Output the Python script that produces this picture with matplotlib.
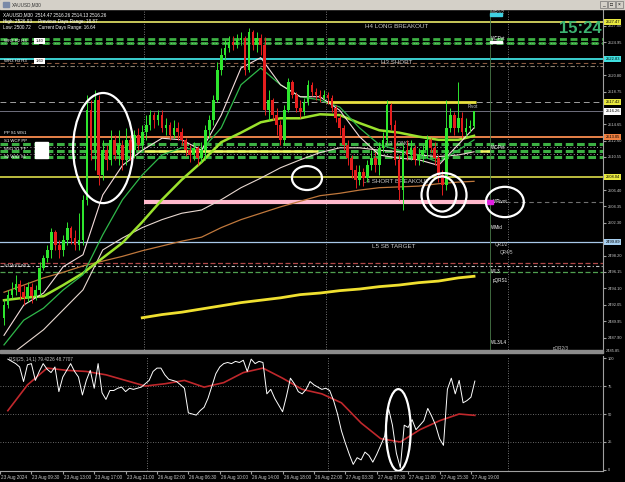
import matplotlib
matplotlib.use('Agg')
import matplotlib.pyplot as plt
from matplotlib.patches import Ellipse, Rectangle
from matplotlib.transforms import ScaledTranslation
import numpy as np

plt.rcParams['font.family'] = ['Liberation Sans', 'DejaVu Sans']

# XAUUSD M30 candles, open of a bar = close of the bar before
first_open = 2490.4
closes = [2492.0, 2493.3, 2493.9, 2494.6, 2493.6, 2492.9, 2494.3, 2493.1, 2493.9, 2496.6,
          2497.9, 2498.9, 2501.2, 2499.5, 2498.9, 2500.2, 2501.7, 2500.4, 2499.5, 2500.2,
          2505.2, 2516.4, 2511.4, 2517.7, 2508.3, 2511.4, 2510.2, 2512.7, 2510.8, 2512.1,
          2510.2, 2512.7, 2511.4, 2513.3, 2512.1, 2513.7, 2514.6, 2515.8, 2515.2, 2515.8,
          2514.2, 2514.6, 2513.3, 2514.2, 2513.7, 2512.7, 2511.4, 2510.8, 2511.7, 2510.4,
          2511.4, 2513.9, 2515.2, 2517.7, 2521.5, 2523.3, 2524.2, 2525.0, 2524.6, 2525.2,
          2525.5, 2521.5, 2526.2, 2524.6, 2525.5, 2524.6, 2516.4, 2517.7, 2515.8, 2514.6,
          2512.7, 2516.4, 2519.9, 2518.3, 2516.7, 2516.2, 2517.4, 2519.6, 2518.7, 2518.3,
          2517.9, 2518.3, 2517.9, 2516.7, 2515.4, 2514.2, 2512.1, 2510.4, 2508.9, 2507.7,
          2508.7, 2507.9, 2509.5, 2510.4, 2509.5, 2511.7, 2512.7, 2517.1, 2514.6, 2510.2,
          2506.4, 2511.4, 2510.8, 2511.7, 2510.2, 2510.8, 2511.4, 2512.7, 2511.7, 2510.4,
          2508.3, 2507.0, 2514.2, 2515.8, 2514.2, 2515.4, 2513.7, 2514.2, 2514.47, 2516.26]
highs = [2492.6, 2493.9, 2494.9, 2495.8, 2495.1, 2494.5, 2494.9, 2494.8, 2494.5, 2497.4,
         2498.3, 2499.5, 2501.7, 2501.4, 2500.2, 2500.8, 2502.4, 2501.9, 2501.4, 2503.5,
         2505.8, 2518.3, 2517.7, 2518.9, 2518.3, 2512.7, 2512.1, 2513.9, 2513.3, 2513.9,
         2512.7, 2514.2, 2513.3, 2513.9, 2514.2, 2514.6, 2515.8, 2516.4, 2516.2, 2516.4,
         2516.4, 2515.4, 2514.9, 2515.2, 2514.9, 2514.2, 2512.9, 2512.1, 2512.4, 2511.9,
         2512.4, 2514.6, 2515.8, 2518.3, 2522.5, 2524.2, 2525.2, 2525.7, 2525.7, 2526.0,
         2526.2, 2525.7, 2526.7, 2526.5, 2526.2, 2526.0, 2525.6, 2518.9, 2517.9, 2516.7,
         2515.2, 2517.1, 2520.5, 2520.2, 2518.7, 2517.7, 2517.9, 2520.2, 2519.9, 2519.2,
         2518.9, 2518.9, 2518.7, 2518.3, 2517.1, 2515.8, 2514.6, 2512.7, 2510.8, 2509.5,
         2509.5, 2509.2, 2510.2, 2511.4, 2511.2, 2512.4, 2513.7, 2517.7, 2517.3, 2515.2,
         2510.8, 2512.1, 2512.7, 2512.7, 2512.1, 2511.7, 2512.1, 2513.3, 2512.9, 2512.4,
         2510.8, 2508.9, 2517.7, 2516.7, 2516.2, 2519.9, 2516.2, 2515.4, 2515.2, 2516.26]
lows = [2489.5, 2491.6, 2492.9, 2493.3, 2492.6, 2492.0, 2492.4, 2492.3, 2492.6, 2493.3,
        2496.4, 2497.4, 2497.9, 2498.9, 2497.9, 2498.1, 2499.5, 2499.6, 2498.9, 2498.9,
        2499.5, 2504.5, 2510.2, 2508.9, 2507.0, 2507.7, 2508.9, 2509.5, 2510.2, 2509.5,
        2508.9, 2509.5, 2510.2, 2510.4, 2511.4, 2511.4, 2512.7, 2513.9, 2514.2, 2514.6,
        2513.7, 2513.3, 2512.7, 2512.9, 2512.7, 2512.1, 2510.7, 2509.9, 2510.2, 2509.5,
        2509.9, 2510.2, 2512.9, 2514.6, 2517.4, 2520.8, 2522.7, 2523.7, 2524.0, 2524.2,
        2524.6, 2520.8, 2521.2, 2524.0, 2523.7, 2523.3, 2515.8, 2515.2, 2515.2, 2513.3,
        2512.1, 2512.1, 2516.2, 2517.9, 2516.2, 2515.4, 2515.8, 2517.1, 2518.2, 2517.7,
        2517.4, 2517.7, 2517.2, 2516.2, 2514.9, 2513.3, 2511.4, 2509.5, 2507.9, 2506.7,
        2507.0, 2506.9, 2507.4, 2508.9, 2508.7, 2508.3, 2511.2, 2512.1, 2513.9, 2509.5,
        2505.2, 2503.9, 2510.2, 2510.2, 2509.5, 2509.5, 2509.9, 2510.4, 2511.2, 2509.5,
        2507.4, 2505.8, 2506.4, 2513.7, 2513.3, 2513.7, 2512.9, 2513.2, 2513.7, 2514.13]

# moving averages, read every 5 bars
ma_bars = [0, 5, 10, 15, 20, 25, 30, 35, 40, 45, 50, 55, 60, 65, 70, 75, 80, 85, 90, 95,
           100, 105, 110, 115, 119]
ma_fast = [2488.2, 2492.0, 2493.5, 2496.8, 2498.3, 2505.8, 2509.5, 2511.4, 2512.9, 2512.7,
           2511.4, 2515.8, 2521.7, 2523.0, 2519.6, 2518.1, 2518.1, 2516.4, 2513.1, 2510.8,
           2510.4, 2510.2, 2509.5, 2512.1, 2514.2]
ma_mid = [2487.0, 2490.1, 2491.6, 2493.9, 2495.8, 2500.8, 2505.2, 2508.3, 2510.8, 2511.7,
          2511.4, 2514.2, 2519.6, 2521.7, 2519.6, 2518.1, 2517.7, 2516.8, 2514.2, 2512.1,
          2511.4, 2510.8, 2509.9, 2511.4, 2512.7]
ma_slow = [2492.6, 2492.9, 2493.1, 2494.5, 2496.0, 2497.9, 2499.8, 2502.4, 2505.2, 2507.7,
           2509.9, 2512.4, 2513.6, 2514.9, 2515.4, 2515.4, 2515.9, 2515.8, 2514.8, 2513.9,
           2513.6, 2513.1, 2512.7, 2512.7, 2513.2]
ma_pale = [2485.1, 2487.0, 2488.9, 2491.4, 2493.9, 2498.9, 2500.4, 2501.7, 2502.7, 2503.5,
           2503.9, 2505.2, 2506.7, 2507.9, 2509.2, 2510.2, 2511.1, 2511.7, 2511.7, 2511.4,
           2511.2, 2510.8, 2510.6, 2510.8, 2511.2]
ma_tan = [2493.6, 2494.5, 2495.4, 2496.1, 2496.9, 2497.5, 2498.1, 2498.8, 2499.4, 2500.0,
          2500.5, 2501.7, 2502.7, 2503.5, 2504.3, 2505.0, 2505.7, 2506.0, 2506.4, 2506.7,
          2506.8, 2506.9, 2507.2, 2507.4, 2507.5]
ma_long_bars = [35, 40, 45, 50, 55, 60, 65, 70, 75, 80, 85, 90, 95, 100, 105, 110, 115, 119]
ma_long = [2490.4, 2490.8, 2491.1, 2491.5, 2491.9, 2492.3, 2492.6, 2492.9, 2493.3, 2493.5,
           2493.8, 2494.0, 2494.3, 2494.5, 2494.8, 2495.0, 2495.4, 2495.6]

# oscillator window
osc_main = [99, 97, 95, 92, 79, 94, 95, 80, 88, 95,
            90, 87, 92, 70, 83, 89, 95, 88, 83, 67,
            80, 89, 73, 95, 69, 63, 71, 71, 73, 74,
            70, 73, 72, 73, 74, 77, 80, 88, 91, 91,
            85, 81, 80, 79, 76, 73, 51, 50, 49, 53,
            56, 64, 75, 86, 92, 95, 96, 95, 97, 96,
            98, 88, 99, 95, 97, 96, 68, 72, 64, 58,
            52, 66, 82, 77, 70, 68, 72, 79, 76, 74,
            72, 73, 71, 62, 50, 35, 24, 14, 5, 11,
            9, 16, 13, 7, 14, 22, 30, 55, 40, 15,
            2, 40, 38, 45, 36, 40, 44, 55, 48, 40,
            28, 22, 72, 82, 68, 80, 60, 62, 65, 79.42]
osc_signal = [53, 76, 91, 89, 88, 85, 80, 75, 77, 80, 74, 78, 87, 91, 82, 72, 68, 60, 42, 28,
              25, 36, 44, 50, 48.77]

# levels
h4_long = 2527.47
h3_short = 2522.83
pivot = 2517.42
bid = 2516.26
orange_lvl = 2513.05
prev_pivot = 2511.30
l4_short = 2508.04
wpivot = 2504.90
l5_target = 2499.89
green_top = [2525.33, 2524.83]
green_mid = [2512.17, 2511.30, 2510.55]
white_mid = [2511.74, 2510.92]
brown_rows = [2522.33, 2521.95]
low_rows = [2497.26, 2496.89, 2496.14]

day_breaks = [35.5, 81.5, 127.5]
session_bar = 123

# scale labels not covered by the coloured price boxes
price_ticks = [2527.00, 2524.95, 2520.80, 2518.75, 2514.65, 2512.60,
               2510.55, 2506.40, 2504.35, 2502.30, 2498.20, 2496.15,
               2494.10, 2492.05, 2489.95, 2487.90]
time_ticks = [-2, 6, 14, 22, 30, 38, 46, 54, 62, 70, 78, 86, 94, 102, 110, 118]
time_labels = ['23 Aug 2024', '23 Aug 09:30', '23 Aug 13:00', '23 Aug 17:00', '23 Aug 21:00',
               '26 Aug 02:00', '26 Aug 06:30', '26 Aug 10:00', '26 Aug 14:00', '26 Aug 18:00',
               '26 Aug 22:00', '27 Aug 03:30', '27 Aug 07:30', '27 Aug 11:00', '27 Aug 15:30',
               '27 Aug 19:00']

W, H = 625.0, 482.0
fig = plt.figure(figsize=(6.25, 4.82), dpi=100, facecolor='black')


def px_axes(left, top, right, bottom):
    return fig.add_axes([left / W, 1 - bottom / H, (right - left) / W, (bottom - top) / H])


ax = px_axes(0, 10, 603, 352)
ax2 = px_axes(0, 356, 603, 471)
xlim = (-1.013, 151.65)
for a in (ax, ax2):
    a.set_facecolor('black')
    a.set_xlim(*xlim)
    for s in ('top', 'left', 'bottom'):
        a.spines[s].set_visible(False)
    a.spines['right'].set_color('#a0a0a0')
    a.spines['right'].set_linewidth(0.8)
    for b in day_breaks:
        a.axvline(b, color='#9a9a9a', lw=0.6, ls=(0, (1, 2)), zorder=1)
ax2.spines['bottom'].set_visible(True)
ax2.spines['bottom'].set_color('#a0a0a0')
ax.set_ylim(2486.11, 2528.97)
ax2.set_ylim(-0.9, 101.8)

txt = '#c8c8c8'
small = 3.3

# ---- horizontal levels
ax.axhline(h4_long, color='#d8d860', lw=1.3, zorder=2)
for p in green_top:
    ax.axhline(p, color='#3cb043', lw=2.0, ls=(0, (2.5, 1.3)), zorder=2)
ax.axhline(green_top[1], color='#e0e0e0', lw=0.5, ls=(1.2, (0.6, 3.2)), zorder=2)
ax.axhline(h3_short, color='#40e0e0', lw=1.3, zorder=2)
ax.axhline(brown_rows[0], color='#8a5a40', lw=0.8, ls=(0, (4, 3)), zorder=2)
ax.axhline(brown_rows[1], color='#8a8070', lw=0.8, ls=(0, (4, 2, 1, 2)), zorder=2)
ax.axhline(pivot, color='#a0a0a0', lw=0.7, ls=(0, (6, 4)), zorder=2)
ax.hlines(pivot, day_breaks[1], 119.5, color='#e8e040', lw=2.0, zorder=2)
ax.axhline(bid, color='#70707e', lw=0.7, zorder=2)
ax.axhline(orange_lvl, color='#e8824a', lw=1.4, zorder=2)
for p in green_mid:
    ax.axhline(p, color='#3cb043', lw=2.2, ls=(0, (2.5, 1.2)), zorder=2)
for p in white_mid:
    ax.axhline(p, color='#d8d8d8', lw=0.6, ls=(0, (1, 3)), zorder=2)
ax.hlines(prev_pivot, day_breaks[0], day_breaks[1] - 2, color='#f0f060', lw=1.8, zorder=2)
ax.hlines(prev_pivot, 120.5, session_bar, color='#f0f060', lw=1.8, zorder=2)
ax.axhline(l4_short, color='#f0f050', lw=1.1, zorder=2)
ax.hlines(wpivot, day_breaks[0], session_bar, color='#ffb8cc', lw=3.0, zorder=2)
ax.hlines(wpivot, session_bar, xlim[1], color='#707070', lw=0.8, ls=(0, (4, 3)), zorder=2)
ax.axhline(l5_target, color='#a8c8e8', lw=0.9, zorder=2)
ax.axhline(low_rows[0], color='#b04848', lw=0.9, ls=(0, (4, 2)), zorder=2)
ax.axhline(low_rows[1], color='#c8c8c8', lw=0.8, ls=(0, (3, 2, 1, 2)), zorder=2)
ax.axhline(low_rows[2], color='#50a050', lw=0.9, ls=(0, (4, 2)), zorder=2)
ax.axvline(session_bar, color='#4a7a4a', lw=0.6, zorder=2)

# ---- moving averages
ax.plot(ma_bars, ma_tan, color='#c0783c', lw=0.9, zorder=3)
ax.plot(ma_bars, ma_pale, color='#e8d8d0', lw=0.8, zorder=3)
ax.plot(ma_long_bars, ma_long, color='#f0e030', lw=2.0, zorder=3)
ax.plot(ma_bars, ma_slow, color='#9be22d', lw=1.8, zorder=4)
ax.plot(ma_bars, ma_mid, color='#2fb84a', lw=0.9, zorder=4)
ax.plot(ma_bars, ma_fast, color='#f4dcdc', lw=0.8, zorder=4)

# ---- candles
o = np.array([first_open] + closes[:-1])
c = np.array(closes)
h = np.array(highs)
l = np.array(lows)
idx = np.arange(len(c))
col = np.where(c >= o, '#2ee62e', '#e61e1e')
ax.vlines(idx, l, h, colors=col, lw=0.7, zorder=5)
ax.bar(idx, np.maximum(np.abs(c - o), 0.08), bottom=np.minimum(o, c), width=0.66,
       color=col, linewidth=0, zorder=6)

# ---- annotations
for (cx, cy, w, hh) in [(25.1, 2511.67, 15.2, 13.8), (76.7, 2507.91, 7.6, 3.0),
                        (111.4, 2505.78, 11.4, 5.5), (110.9, 2505.91, 7.3, 4.4),
                        (126.8, 2504.91, 9.6, 3.8)]:
    ax.add_patch(Ellipse((cx, cy), w, hh, fill=False, ec='white', lw=1.6, zorder=8))
ax2.add_patch(Ellipse((99.5, 35.7), 6.3, 73, fill=False, ec='white', lw=1.6, zorder=8))

ax.text(91.4, h4_long - 0.25, 'H4 LONG BREAKOUT', fontsize=4.5, color=txt, va='top', zorder=2)
ax.text(95.4, h3_short - 0.15, 'H3 SHORT', fontsize=4.5, color=txt, va='top', zorder=2)
ax.text(90.9, l4_short - 0.2, 'L4 SHORT BREAKOUT', fontsize=4.5, color=txt, va='top', zorder=2)
ax.text(93.2, l5_target - 0.2, 'L5 SB TARGET', fontsize=4.5, color=txt, va='top', zorder=2)
ax.text(96.7, 2512.3, 'L3 LONG', fontsize=4.0, color=txt, va='center', zorder=2)
ax.text(117.5, pivot - 0.2, 'Pivot', fontsize=small, color=txt, va='top', zorder=7)
for bx, p, s, cc in [(123.3, 2528.6, 'WR1/2', txt), (123.3, 2525.46, 'WCPvt', 'white'),
                     (123.3, 2511.80, 'WCPvt', 'white'), (123.8, 2505.03, 'WPivot', 'white'),
                     (123.3, 2501.65, 'WMid', 'white'), (124.3, 2499.64, 'QR1/2', txt),
                     (125.6, 2498.64, 'QR4/5', txt), (123.3, 2496.14, 'WL3', 'white'),
                     (123.8, 2495.01, 'pQRS1', 'white'), (123.3, 2487.24, 'WL3/L4', 'white'),
                     (139.0, 2486.5, 'pQR2/3', txt)]:
    ax.text(bx, p, s, fontsize=small, color=cc, va='center', zorder=7)
ax.add_patch(Rectangle((123, 2524.85), 3.2, 0.25, color='white', zorder=7))
ax.add_patch(Rectangle((123, 2528.2), 3.2, 0.35, color='#40d0e0', zorder=7))
ax.add_patch(Rectangle((122.4, 2504.65), 1.3, 0.5, color='#e020e0', zorder=7))

# left-edge level tags
for p, s in [(2525.1, 'WR2 R2 H4'), (2522.6, 'WR3 H3 R3'), (2513.5, 'PP S1 WS1'),
             (2512.5, 'S1 WCP PP'), (2511.5, 'WS1 S1 PP'), (2510.5, 'S2 WS2 S1'),
             (2496.9, 'S3 WS3 WL3')]:
    ax.text(0.0, p, s, fontsize=3.1, color='white', va='center', zorder=7)
ax.add_patch(Rectangle((7.9, 2510.4), 3.3, 2.0, color='white', zorder=7))
for p, s in [(2525.1, '1.40'), (2522.6, '1.60')]:
    ax.text(8.0, p, s, fontsize=2.8, color='black', va='center', zorder=8,
            bbox=dict(boxstyle='square,pad=0.3', fc='white', ec='none'))

# ---- price axis
ax.yaxis.tick_right()
ax.set_yticks(price_ticks)
ax.set_yticklabels([f'{p:.2f}' for p in price_ticks])
ax.tick_params(axis='y', labelsize=2.9, labelcolor=txt, color='#a0a0a0', length=2, pad=1.2)
ax.set_xticks([])
for p, cc in [(h4_long, '#e8e840'), (h3_short, '#40e0e0'), (pivot, '#e8e840'),
              (bid, '#ffffff'), (orange_lvl, '#f08040'), (l4_short, '#e8e840'),
              (l5_target, '#a8d0f0')]:
    ax.text(1.004, p, f'{p:.2f}', transform=ax.get_yaxis_transform(), fontsize=2.9,
            color='black', va='center', ha='left', zorder=10, clip_on=False,
            bbox=dict(boxstyle='square,pad=0.3', fc=cc, ec='none'))
fig.text(606 / W, 1 - 351 / H, '2485.85', fontsize=2.9, color=txt, va='center')

# ---- oscillator
ax2.plot(idx, osc_main, color='white', lw=0.7, zorder=4)
ax2.plot(ma_bars, osc_signal, color='#c0282c', lw=1.2, zorder=3)
for v in (75, 50, 25):
    ax2.axhline(v, color='#8a8a8a', lw=0.6, ls=(0, (1, 2)), zorder=1)
ax2.text(0.3, 98.5, 'RSI(25, 14,1) 79.4226 48.7707', fontsize=small, color=txt, va='center',
         zorder=6)
ax2.yaxis.tick_right()
ax2.set_yticks([100, 75, 50, 25, 0])
ax2.set_yticklabels(['100', '75', '50', '25', '0'])
ax2.tick_params(axis='y', labelsize=2.9, labelcolor=txt, color='#a0a0a0', length=2, pad=1.2)
ax2.set_xticks(time_ticks)
ax2.set_xticklabels(time_labels, ha='left')
ax2.tick_params(axis='x', labelsize=small, labelcolor=txt, color='#a0a0a0', length=2, pad=1.0)
for lab in ax2.get_xticklabels():
    lab.set_transform(lab.get_transform() + ScaledTranslation(0.01, 0, fig.dpi_scale_trans))

# ---- window chrome
fig.add_artist(Rectangle((0, 1 - 352.5 / H), 603 / W, 3 / H, transform=fig.transFigure,
                         color='#8c8c8c'))
fig.add_artist(Rectangle((0, 1 - 9 / H), 1, 9 / H, transform=fig.transFigure, color='#d4d0c8'))
fig.text(12 / W, 1 - 4.5 / H, 'XAUUSD,M30', fontsize=small, color='#303030', va='center')
fig.add_artist(Rectangle((3 / W, 1 - 7 / H), 6 / W, 5 / H, transform=fig.transFigure,
                         color='#7a8aa8'))
for bx, s in [(600, '_'), (608, '□'), (616, '×')]:
    fig.add_artist(Rectangle((bx / W, 1 - 8 / H), 7 / W, 7 / H, transform=fig.transFigure,
                             fc='#d4d0c8', ec='#606060', lw=0.4))
    fig.text((bx + 3.5) / W, 1 - 4.5 / H, s, fontsize=3.5, color='black', ha='center',
             va='center')
fig.text(3 / W, 1 - 15 / H, 'XAUUSD,M30  2514.47 2516.26 2514.13 2516.26', fontsize=small,
         color='white', va='center')
fig.text(3 / W, 1 - 22 / H, 'High: 2526.93     Previous Days Range: 18.87', fontsize=small,
         color='white', va='center')
fig.text(3 / W, 1 - 28 / H, 'Low: 2500.72      Current Days Range: 16.64', fontsize=small,
         color='white', va='center')
fig.text(602 / W, 1 - 28.5 / H, '15:24', fontsize=12, fontweight='bold', color='#3cb371',
         ha='right', va='center')

fig.savefig('out.png', dpi=100, facecolor='black')
